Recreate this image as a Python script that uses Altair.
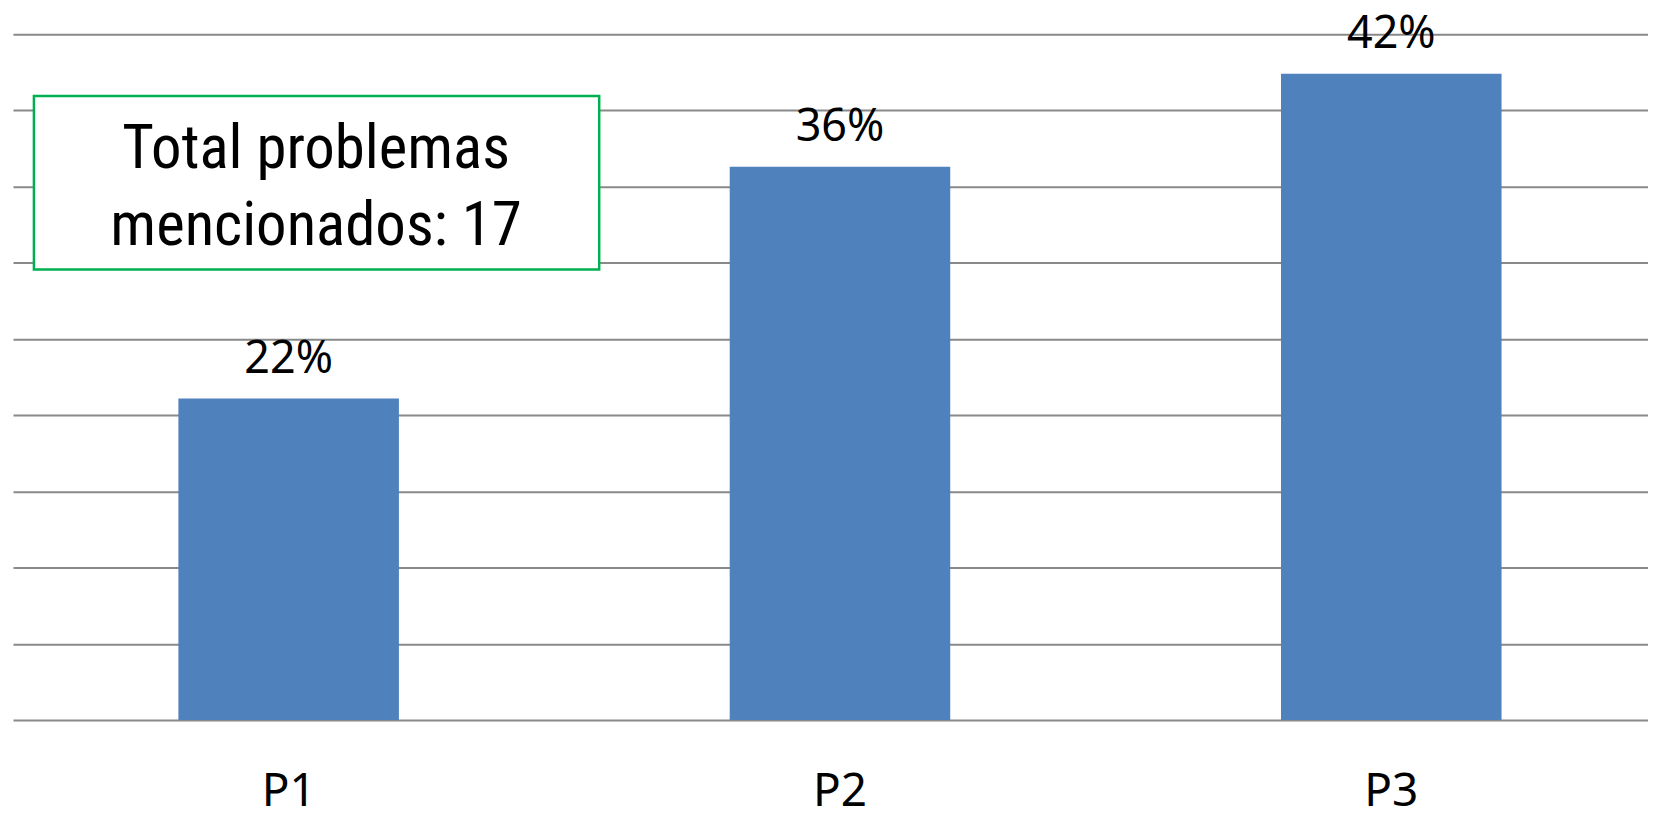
import altair as alt
import pandas as pd

# Data
categories = ["P1", "P2", "P3"]
bar_values = [21.1, 36.3, 42.4]          # bar heights (percent) as drawn
value_labels = ["22%", "36%", "42%"]     # labels printed above the bars
annot_lines = ["Total problemas", "mencionados: 17"]
y_ticks = [0, 5, 10, 15, 20, 25, 30, 35, 40, 45]

df = pd.DataFrame({"cat": categories, "val": bar_values, "lab": value_labels})

BAR_COLOR = "#4F81BD"
GRID_COLOR = "#898989"

x_enc = alt.X(
    "cat:N",
    sort=categories,
    scale=alt.Scale(paddingInner=0.6, paddingOuter=0.3, range=[0, 1659]),
    axis=alt.Axis(
        title=None,
        labelAngle=0,
        domain=False,
        ticks=False,
        tickSize=0,
        labelFont="Noto Sans",
        labelFontSize=46,
        labelColor="#000000",
        labelBaseline="bottom",
        labelPadding=96,
    ),
)
y_enc = alt.Y(
    "val:Q",
    scale=alt.Scale(domain=[0, 45], nice=False, zero=True),
    axis=alt.Axis(
        title=None,
        values=y_ticks,
        labels=False,
        ticks=False,
        domain=False,
        grid=True,
        gridColor=GRID_COLOR,
        gridWidth=2,
        gridOpacity=1,
    ),
)

bars = alt.Chart(df).mark_bar(color=BAR_COLOR).encode(x=x_enc, y=y_enc)

labels = alt.Chart(df).mark_text(
    font="Noto Sans", fontSize=45, color="#000000",
    baseline="alphabetic", align="center", dy=-26,
).encode(x=x_enc, y=y_enc, text="lab:N")

one = alt.Data(values=[{"k": 1}])

box = alt.Chart(one).mark_rect(
    fill="#FFFFFF", stroke="#00B050", strokeWidth=2.5
).encode(
    x=alt.value(21), x2=alt.value(588), y=alt.value(62), y2=alt.value(236)
)

box_text = alt.Chart(one).mark_text(
    text=annot_lines,
    font="Roboto Condensed, Liberation Sans Narrow, Roboto, sans-serif",
    fontSize=61,
    lineHeight=77,
    baseline="alphabetic",
    align="center",
    color="#000000",
).encode(x=alt.value(304), y=alt.value(134))

chart = (
    alt.layer(bars, labels, box, box_text)
    .properties(
        width=1640,
        height=688,
        padding={"left": 5, "top": 25, "right": 0, "bottom": 97},
        autosize=alt.AutoSizeParams(type="none"),
        background="#FFFFFF",
    )
    .configure_view(stroke=None)
)

chart.save("out.html", embed_options={"renderer": "svg", "actions": False})
